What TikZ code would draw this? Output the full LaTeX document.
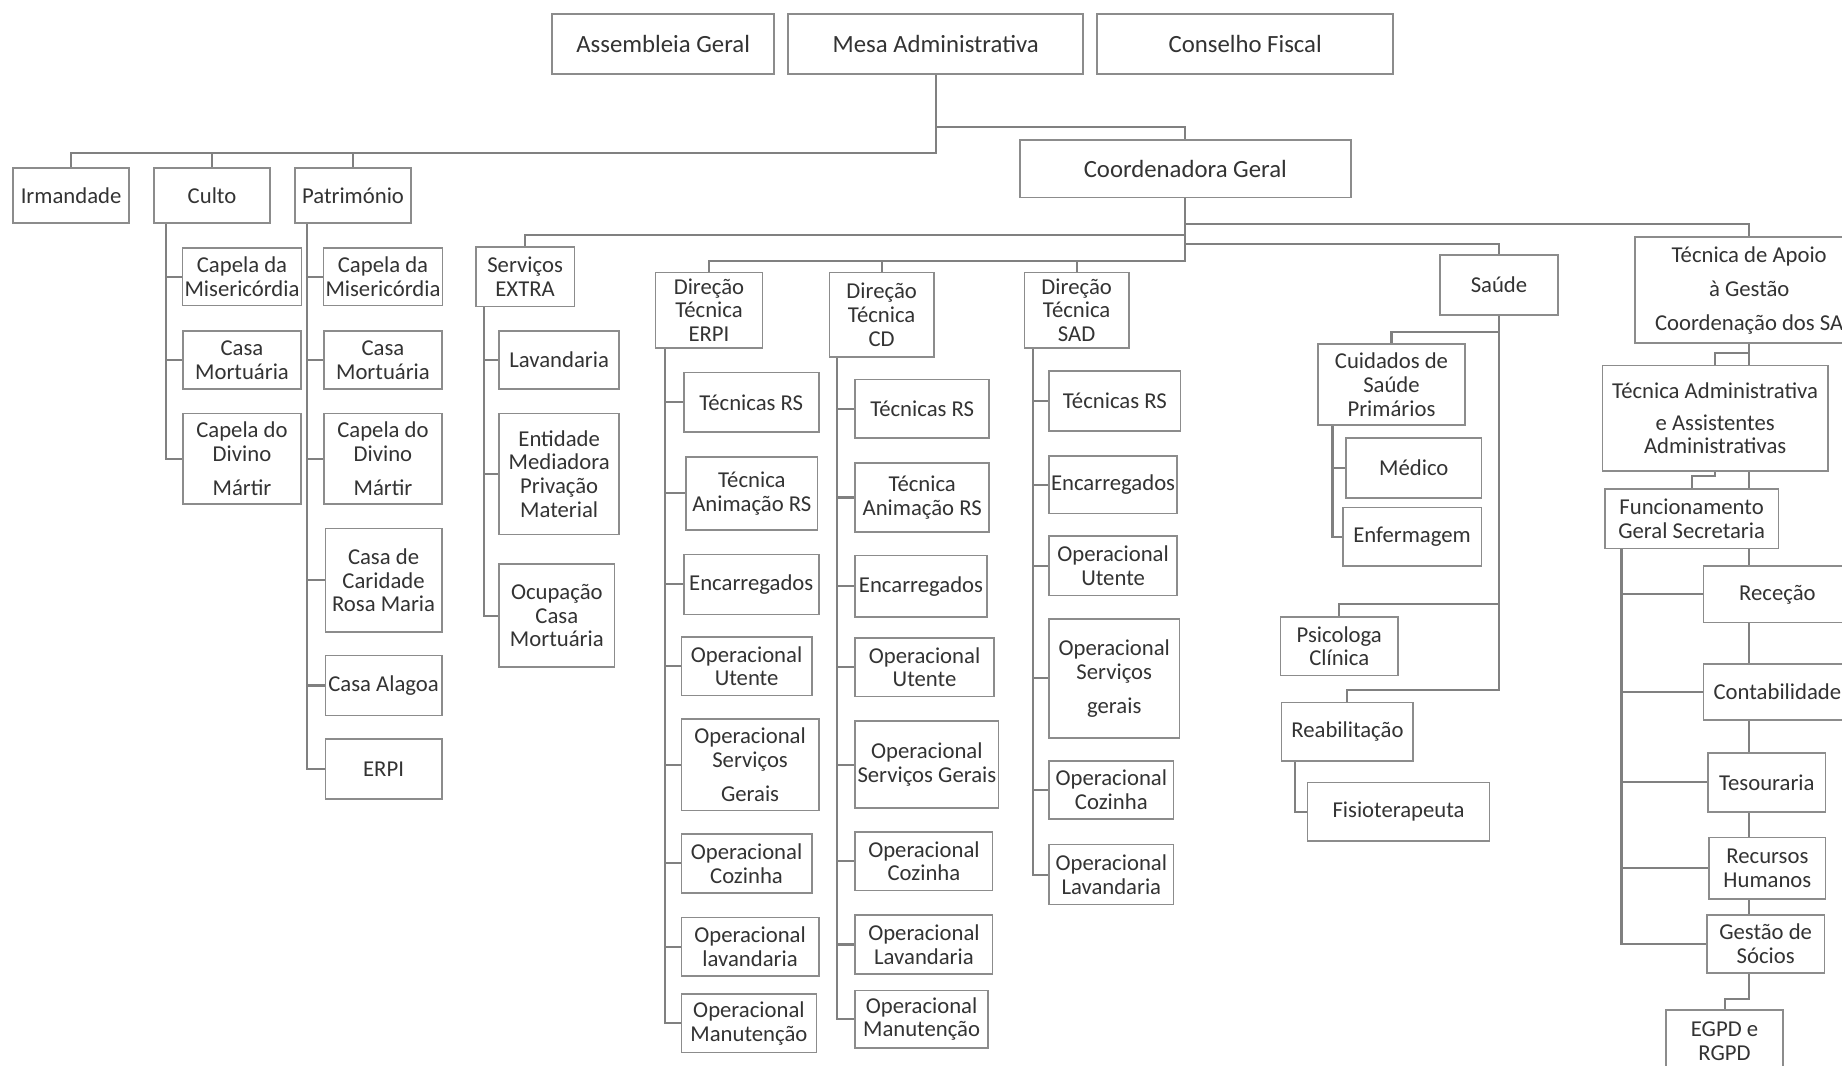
\documentclass[tikz,border=0pt]{standalone}
\usepackage{fontspec}
\setmainfont{Carlito}
\usepackage{tikz}
\usetikzlibrary{backgrounds}
\tikzset{box/.style={draw=black!45, line width=0.8pt, fill=white, text=black!80, align=center, inner sep=1pt, font=\fontsize{11}{11.5}\selectfont}}
\tikzset{topbox/.style={box, font=\fontsize{12}{14}\selectfont}}
\tikzset{link/.style={draw=black!50, line width=1pt}}
\tikzset{sz/.style 2 args={minimum width=#1*0.02cm, minimum height=#2*0.02cm}}

\begin{document}
\begin{tikzpicture}[x=0.02cm, y=-0.02cm]
    \useasboundingbox (0,0) rectangle (1568,907);

    % orgaos sociais
    \node[topbox, sz={189}{51}] at (564.5, 37.5) (asm) {Assembleia Geral};
    \node[topbox, sz={251}{51}] at (796.5, 37.5) (mesa) {Mesa Administrativa};
    \node[topbox, sz={252}{51}] at (1060, 37.5) (cons) {Conselho Fiscal};
    \node[topbox, sz={282}{49}] at (1009, 143.5) (coord) {Coordenadora Geral};

    \node[box, sz={99}{47}] at (60.5, 166.5) (irm) {Irmandade};
    \node[box, sz={99}{47}] at (180.5, 166.5) (culto) {Culto};
    \node[box, sz={99}{47}] at (300.5, 166.5) (patr) {Património};

    \node[box, sz={100}{49}] at (206, 235.5) (cmis) {Capela da\\Misericórdia};
    \node[box, sz={100}{49}] at (206, 306.5) (cmort) {Casa\\Mortuária};
    \node[box, sz={100}{77}] at (206, 390.5) (cdiv) {Capela do\\Divino\\[5pt]Mártir};

    \node[box, sz={100}{49}] at (326, 235.5) (pmis) {Capela da\\Misericórdia};
    \node[box, sz={100}{49}] at (326, 306.5) (pmort) {Casa\\Mortuária};
    \node[box, sz={100}{77}] at (326, 390.5) (pdiv) {Capela do\\Divino\\[5pt]Mártir};
    \node[box, sz={99}{88}] at (326.5, 494) (prosa) {Casa de\\Caridade\\Rosa Maria};
    \node[box, sz={99}{51}] at (326.5, 583.5) (palag) {Casa Alagoa};
    \node[box, sz={99}{51}] at (326.5, 654.5) (perpi) {ERPI};

    \node[box, sz={84}{51}] at (447, 235.5) (sext) {Serviços\\EXTRA};
    \node[box, sz={102}{49}] at (476, 306.5) (slav) {Lavandaria};
    \node[box, sz={102}{103}] at (476, 403.5) (sent) {Entidade\\Mediadora\\Privação\\Material};
    \node[box, sz={98}{88}] at (474, 524) (socup) {Ocupação\\Casa\\Mortuária};

    % direcoes tecnicas
    \node[box, sz={91}{64}] at (603.5, 264) (derpi) {Direção\\Técnica\\ERPI};
    \node[box, sz={89}{72}] at (750.5, 268) (dcd) {Direção\\Técnica\\CD};
    \node[box, sz={89}{64}] at (916.5, 264) (dsad) {Direção\\Técnica\\SAD};

    \node[box, sz={115}{51}] at (639.5, 342.5) (etec) {Técnicas RS};
    \node[box, sz={112}{62}] at (640, 420) (eanim) {Técnica\\Animação RS};
    \node[box, sz={115}{51}] at (639.5, 497.5) (eenc) {Encarregados};
    \node[box, sz={111}{50}] at (635.5, 567) (eute) {Operacional\\Utente};
    \node[box, sz={117}{78}] at (638.5, 651) (eserv) {Operacional\\Serviços\\[5pt]Gerais};
    \node[box, sz={111}{50}] at (635.5, 735) (ecoz) {Operacional\\Cozinha};
    \node[box, sz={117}{50}] at (638.5, 806) (elav) {Operacional\\lavandaria};
    \node[box, sz={115}{50}] at (637.5, 871) (eman) {Operacional\\Manutenção};

    \node[box, sz={114}{50}] at (785, 348) (ctec) {Técnicas RS};
    \node[box, sz={114}{59}] at (785, 423.5) (canim) {Técnica\\Animação RS};
    \node[box, sz={112}{52}] at (784, 499) (cenc) {Encarregados};
    \node[box, sz={118}{50}] at (787, 568) (cute) {Operacional\\Utente};
    \node[box, sz={122}{74}] at (789, 651) (cserv) {Operacional\\Serviços Gerais};
    \node[box, sz={117}{50}] at (786.5, 733) (ccoz) {Operacional\\Cozinha};
    \node[box, sz={117}{50}] at (786.5, 804) (clav) {Operacional\\Lavandaria};
    \node[box, sz={113}{49}] at (784.5, 867.5) (cman) {Operacional\\Manutenção};

    \node[box, sz={112}{51}] at (949, 341.5) (stec) {Técnicas RS};
    \node[box, sz={109}{49}, inner sep=0.5pt] at (947.5, 412.5) (senc) {Encarregados};
    \node[box, sz={109}{51}] at (947.5, 481.5) (sute) {Operacional\\Utente};
    \node[box, sz={111}{101}] at (948.5, 577.5) (sserv) {Operacional\\Serviços\\[5pt]gerais};
    \node[box, sz={106}{49}] at (946, 672.5) (scoz) {Operacional\\Cozinha};
    \node[box, sz={106}{51}] at (946, 744.5) (slavd) {Operacional\\Lavandaria};

    % saude
    \node[box, sz={100}{51}] at (1276, 242.5) (saude) {Saúde};
    \node[box, sz={125}{69}] at (1184.5, 327.5) (cuid) {Cuidados de\\Saúde\\Primários};
    \node[box, sz={115}{51}] at (1203.5, 398.5) (med) {Médico};
    \node[box, sz={118}{50}] at (1202, 457) (enf) {Enfermagem};
    \node[box, sz={100}{50}] at (1140, 550) (psi) {Psicologa\\Clínica};
    \node[box, sz={112}{50}] at (1147, 623) (reab) {Reabilitação};
    \node[box, sz={155}{50}] at (1190.5, 691) (fisio) {Fisioterapeuta};

    % apoio a gestao
    \node[box, sz={194}{90}] at (1489, 247) (apoio) {Técnica de Apoio\\[5pt]à Gestão\\[5pt]Coordenação dos SA};
    \node[box, sz={192}{90}] at (1460, 356) (tadm) {Técnica Administrativa\\[4pt]e Assistentes\\Administrativas};
    \node[box, sz={148}{51}] at (1440, 441.5) (func) {Funcionamento\\Geral Secretaria};
    \node[box, sz={126}{48}] at (1513, 506) (rec) {Receção};
    \node[box, sz={126}{48}] at (1513, 589) (cont) {Contabilidade};
    \node[box, sz={100}{50}] at (1504, 666) (tes) {Tesouraria};
    \node[box, sz={99}{52}] at (1504.5, 739) (rh) {Recursos\\Humanos};
    \node[box, sz={100}{49}] at (1503, 803.5) (ges) {Gestão de\\Sócios};
    \node[box, sz={100}{52}] at (1468, 886) (egpd) {EGPD e\\RGPD};

    \coordinate (busM) at (0, 130);
    \coordinate (busC) at (0, 222);

    \begin{scope}[on background layer]
    \fill[white] (0,0) rectangle (1568,907);

    \draw[link] (mesa.south) |- (busM -| irm.north) -- (irm.north);
    \draw[link] (mesa.south) |- (busM -| culto.north) -- (culto.north);
    \draw[link] (mesa.south) |- (busM -| patr.north) -- (patr.north);
    \draw[link] (mesa.south) |- ([yshift=0.2cm]coord.north) -- (coord.north);

    \draw[link] ([xshift=0.22cm]culto.south west) |- (cmis.west);
    \draw[link] ([xshift=0.22cm]culto.south west) |- (cmort.west);
    \draw[link] ([xshift=0.22cm]culto.south west) |- (cdiv.west);

    \draw[link] ([xshift=0.22cm]patr.south west) |- (pmis.west);
    \draw[link] ([xshift=0.22cm]patr.south west) |- (pmort.west);
    \draw[link] ([xshift=0.22cm]patr.south west) |- (pdiv.west);
    \draw[link] ([xshift=0.22cm]patr.south west) |- (prosa.west);
    \draw[link] ([xshift=0.22cm]patr.south west) |- (palag.west);
    \draw[link] ([xshift=0.22cm]patr.south west) |- (perpi.west);

    % coordenadora
    \draw[link] (coord.south) |- ([yshift=0.19cm]sext.north) -- (sext.north);
    \draw[link] (coord.south) |- (busC -| derpi.north) -- (derpi.north);
    \draw[link] (coord.south) |- (busC -| dcd.north) -- (dcd.north);
    \draw[link] (coord.south) |- (busC -| dsad.north) -- (dsad.north);
    \draw[link] (coord.south) |- ([yshift=0.18cm]saude.north) -- (saude.north);
    \draw[link] (coord.south) |- ([yshift=0.21cm]apoio.north) -- (apoio.north);

    \draw[link] ([xshift=0.16cm]sext.south west) |- (slav.west);
    \draw[link] ([xshift=0.16cm]sext.south west) |- (sent.west);
    \draw[link] ([xshift=0.16cm]sext.south west) |- (socup.west);

    \draw[link] ([xshift=0.18cm]derpi.south west) |- (etec.west);
    \draw[link] ([xshift=0.18cm]derpi.south west) |- (eanim.west);
    \draw[link] ([xshift=0.18cm]derpi.south west) |- (eenc.west);
    \draw[link] ([xshift=0.18cm]derpi.south west) |- (eute.west);
    \draw[link] ([xshift=0.18cm]derpi.south west) |- (eserv.west);
    \draw[link] ([xshift=0.18cm]derpi.south west) |- (ecoz.west);
    \draw[link] ([xshift=0.18cm]derpi.south west) |- (elav.west);
    \draw[link] ([xshift=0.18cm]derpi.south west) |- (eman.west);

    \draw[link] ([xshift=0.14cm]dcd.south west) |- (ctec.west);
    \draw[link] ([xshift=0.14cm]dcd.south west) |- (canim.west);
    \draw[link] ([xshift=0.14cm]dcd.south west) |- (cenc.west);
    \draw[link] ([xshift=0.14cm]dcd.south west) |- (cute.west);
    \draw[link] ([xshift=0.14cm]dcd.south west) |- (cserv.west);
    \draw[link] ([xshift=0.14cm]dcd.south west) |- (ccoz.west);
    \draw[link] ([xshift=0.14cm]dcd.south west) |- (clav.west);
    \draw[link] ([xshift=0.14cm]dcd.south west) |- (cman.west);

    \draw[link] ([xshift=0.16cm]dsad.south west) |- (stec.west);
    \draw[link] ([xshift=0.16cm]dsad.south west) |- (senc.west);
    \draw[link] ([xshift=0.16cm]dsad.south west) |- (sute.west);
    \draw[link] ([xshift=0.16cm]dsad.south west) |- (sserv.west);
    \draw[link] ([xshift=0.16cm]dsad.south west) |- (scoz.west);
    \draw[link] ([xshift=0.16cm]dsad.south west) |- (slavd.west);

    % saude
    \draw[link] (saude.south) |- ([yshift=0.2cm]cuid.north) -- (cuid.north);
    \draw[link] (saude.south) |- ([yshift=0.2cm]psi.north) -- (psi.north);
    \draw[link] (saude.south) |- ([yshift=0.2cm]reab.north) -- (reab.north);
    \draw[link] ([xshift=0.26cm]cuid.south west) |- (med.west);
    \draw[link] ([xshift=0.26cm]cuid.south west) |- (enf.west);
    \draw[link] ([xshift=0.24cm]reab.south west) |- (fisio.west);

    % apoio a gestao
    \draw[link] (apoio.south) |- ([yshift=0.2cm]tadm.north) -- (tadm.north);
    \draw[link] (apoio.south) |- ([yshift=0.18cm]egpd.north) -- (egpd.north);
    \draw[link] (tadm.south) |- ([yshift=0.2cm]func.north) -- (func.north);
    \draw[link] ([xshift=0.3cm]func.south west) |- (rec.west);
    \draw[link] ([xshift=0.3cm]func.south west) |- (cont.west);
    \draw[link] ([xshift=0.3cm]func.south west) |- (tes.west);
    \draw[link] ([xshift=0.3cm]func.south west) |- (rh.west);
    \draw[link] ([xshift=0.3cm]func.south west) |- (ges.west);
    \end{scope}
\end{tikzpicture}
\end{document}
